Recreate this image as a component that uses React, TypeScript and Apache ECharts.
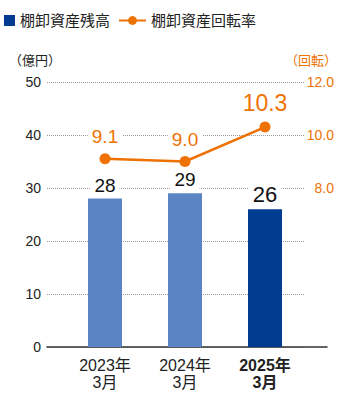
import React, { useEffect, useRef } from "react";
import * as echarts from "echarts";

const categories = ["2023年\n3月", "2024年\n3月", "2025年\n3月"];
const inventory = [28, 29, 26];
const turnover = [9.1, 9.0, 10.3];
const leftTicks = { min: 0, max: 50, interval: 10 };
const rightTicks = { min: 2, max: 12, interval: 2, labelFrom: 8 };
const seriesNames = ["棚卸資産残高", "棚卸資産回転率"];
const unitNames = ["（億円）", "（回転）"];

const FONT = "'Liberation Sans', 'Noto Sans CJK JP', sans-serif";
const ORANGE = "#ee7203";
const LIGHT = "#5a84c4";
const DARK = "#023c91";

export default function App() {
  const ref = useRef<HTMLDivElement>(null);
  useEffect(() => {
    if (!ref.current) return;
    const chart = echarts.init(ref.current, undefined, { renderer: "svg" });
    const last = categories.length - 1;
    chart.setOption({
      animation: false,
      textStyle: { fontFamily: FONT },
      legend: [
        {
          data: [seriesNames[0]],
          left: 4,
          top: 13,
          padding: 0,
          icon: "rect",
          itemWidth: 11,
          itemHeight: 11,
          textStyle: { fontSize: 15, color: "#222", fontFamily: FONT },
        },
        {
          data: [seriesNames[1]],
          left: 118,
          top: 13,
          padding: 0,
          itemWidth: 27,
          itemHeight: 11,
          textStyle: { fontSize: 15, color: "#222", fontFamily: FONT },
        },
      ],
      graphic: [
        {
          type: "text",
          left: 9,
          top: 54,
          style: { text: unitNames[0], fontSize: 13, fill: "#222", fontFamily: FONT },
        },
        {
          type: "text",
          right: 3,
          top: 54,
          style: { text: unitNames[1], fontSize: 13, fill: ORANGE, fontFamily: FONT },
        },
      ],
      grid: [
        { left: 47, right: 35, top: 82, bottom: 49 },
        { left: 65, right: 35, top: 82, bottom: 49 },
        { left: 47, right: 13, top: 82, bottom: 49 },
      ],
      xAxis: [
        { gridIndex: 0, type: "category", data: categories, show: false },
        {
          gridIndex: 1,
          type: "category",
          data: categories.map((c, i) =>
            i === last ? { value: c, textStyle: { fontWeight: "bold" } } : c
          ),
          axisLine: { show: false },
          axisTick: { show: false },
          axisLabel: { fontSize: 16, lineHeight: 17, color: "#222", margin: 10, fontFamily: FONT },
        },
        {
          gridIndex: 2,
          type: "category",
          data: categories,
          axisLine: { show: true, lineStyle: { color: "#333", width: 1.5 } },
          axisTick: { show: false },
          axisLabel: { show: false },
        },
      ],
      yAxis: [
        {
          gridIndex: 0,
          type: "value",
          ...leftTicks,
          axisLine: { show: false },
          axisTick: { show: false },
          axisLabel: { fontSize: 14, color: "#222", margin: 6, fontFamily: FONT },
          splitLine: { lineStyle: { color: "#999", type: "dotted", width: 1 } },
        },
        {
          gridIndex: 0,
          type: "value",
          position: "right",
          min: rightTicks.min,
          max: rightTicks.max,
          interval: rightTicks.interval,
          axisLine: { show: false },
          axisTick: { show: false },
          splitLine: { show: false },
          axisLabel: {
            fontSize: 14,
            color: ORANGE,
            align: "right",
            margin: 29,
            fontFamily: FONT,
            formatter: (v: number) => (v >= rightTicks.labelFrom ? v.toFixed(1) : ""),
          },
        },
        { gridIndex: 1, type: "value", ...leftTicks, show: false },
        {
          gridIndex: 1,
          type: "value",
          min: rightTicks.min,
          max: rightTicks.max,
          interval: rightTicks.interval,
          show: false,
        },
        { gridIndex: 2, type: "value", ...leftTicks, show: false },
      ],
      series: [
        {
          name: seriesNames[0],
          type: "bar",
          xAxisIndex: 1,
          yAxisIndex: 2,
          barWidth: 34,
          itemStyle: { color: DARK },
          data: inventory.map((v, i) =>
            i === last
              ? { value: v, label: { fontSize: 22 } }
              : { value: v, itemStyle: { color: LIGHT } }
          ),
          label: {
            show: true,
            position: "top",
            distance: 4,
            fontSize: 19,
            color: "#111",
            backgroundColor: "#fff",
            padding: [0, 4],
            fontFamily: FONT,
          },
          z: 2,
        },
        {
          name: seriesNames[1],
          type: "line",
          xAxisIndex: 1,
          yAxisIndex: 3,
          symbol: "circle",
          symbolSize: 11,
          lineStyle: { color: ORANGE, width: 2.5 },
          itemStyle: { color: ORANGE },
          data: turnover.map((v, i) =>
            i === last ? { value: v, label: { fontSize: 23 } } : v
          ),
          label: {
            show: true,
            position: "top",
            distance: 7,
            fontSize: 19,
            color: ORANGE,
            backgroundColor: "#fff",
            padding: [0, 4],
            fontFamily: FONT,
            formatter: (p: any) => Number(p.value).toFixed(1),
          },
          z: 3,
        },
      ],
    });
    return () => chart.dispose();
  }, []);
  return (
    <div
      ref={ref}
      style={{ position: "fixed", left: 0, top: 0, width: 340, height: 396, background: "#fff" }}
    />
  );
}
